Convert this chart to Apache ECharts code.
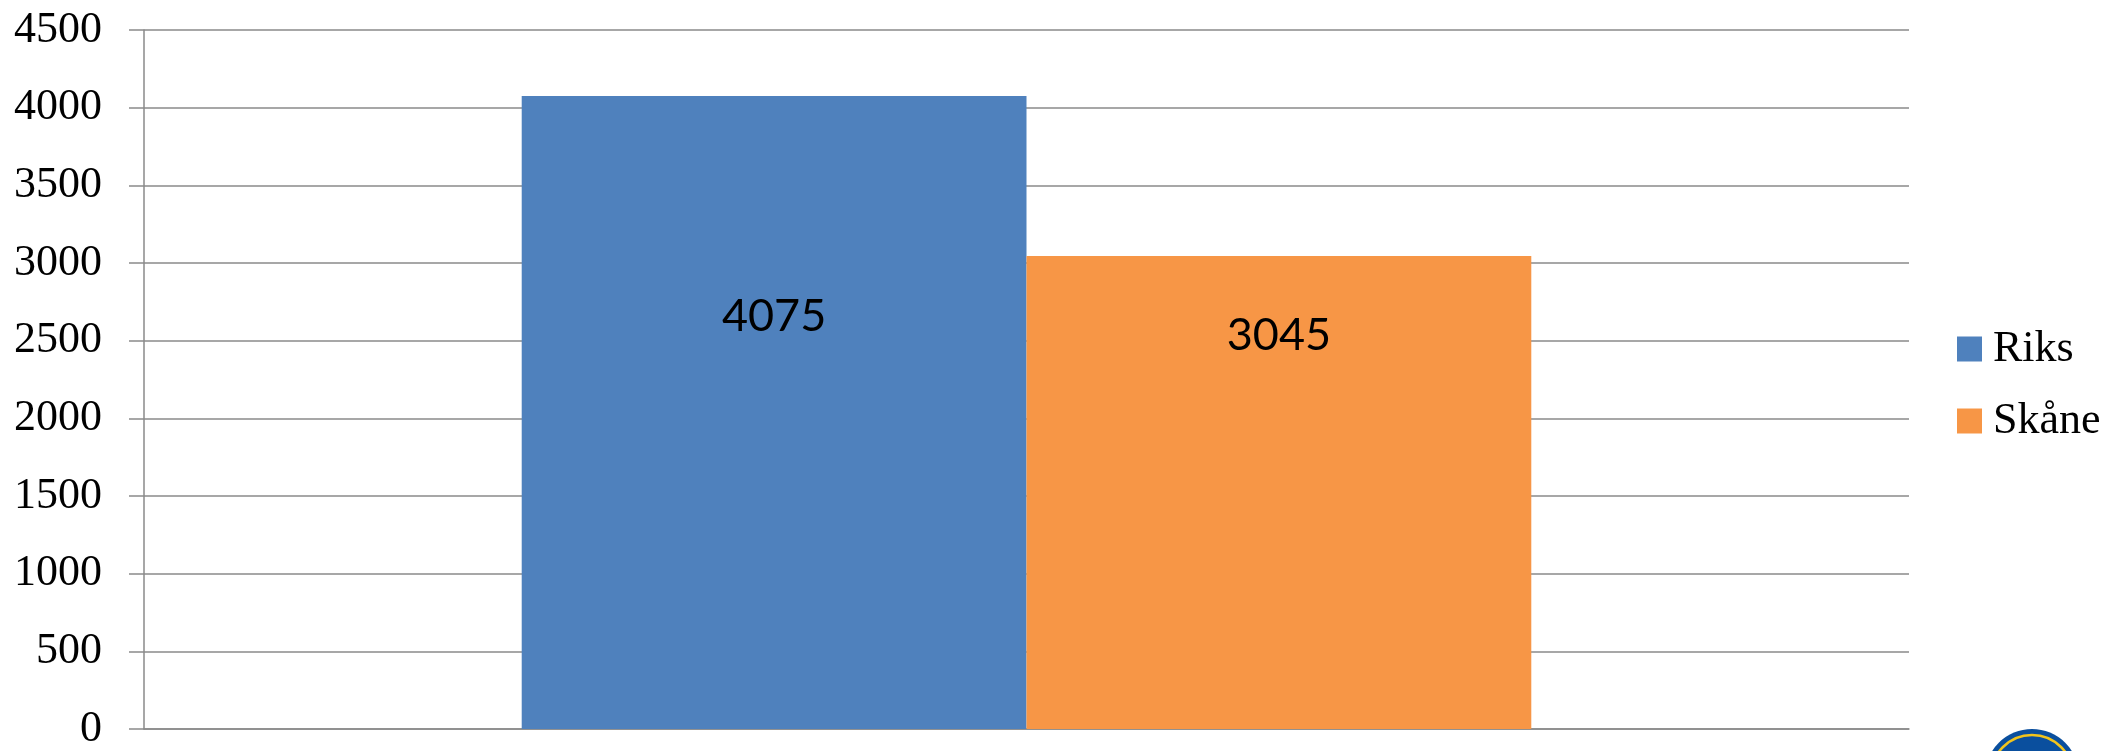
<!DOCTYPE html>
<html>
<head>
<meta charset="utf-8">
<script src="https://cdn.jsdelivr.net/npm/echarts@6/dist/echarts.min.js"></script>
<style>
html,body{margin:0;padding:0;background:#fff;}
#chart{width:2128px;height:751px;}
</style>
</head>
<body>
<div id="chart"></div>
<script>
const categories = [''];
const seriesNames = ['Riks', 'Skåne'];
const riksValues = [4075];
const skaneValues = [3045];
const yMin = 0, yMax = 4500, yInterval = 500;

const chart = echarts.init(document.getElementById('chart'), null, {renderer: 'canvas'});
const gridColor = '#8a8a8a';
const serif = '"Liberation Serif", "DejaVu Serif", serif';
const labelFont = 'Lato, "Open Sans", sans-serif';

chart.setOption({
  animation: false,
  backgroundColor: '#ffffff',
  grid: {left: 144, right: 219, top: 30, bottom: 17.5, containLabel: false},
  legend: {
    orient: 'vertical',
    left: 1957,
    top: 327,
    padding: 0,
    itemWidth: 25,
    itemHeight: 25,
    itemGap: 28,
    icon: 'rect',
    data: seriesNames,
    textStyle: {fontFamily: serif, fontSize: 44, color: '#000', lineHeight: 43, padding: [0, 0, 0, 6]}
  },
  xAxis: {
    type: 'category',
    data: categories,
    axisLine: {show: true, lineStyle: {color: gridColor, width: 1.5}},
    axisTick: {show: false},
    axisLabel: {show: false},
    splitLine: {show: false}
  },
  yAxis: {
    type: 'value',
    min: yMin, max: yMax, interval: yInterval,
    axisLine: {show: true, lineStyle: {color: gridColor, width: 1.5}},
    axisTick: {show: true, length: 15, lineStyle: {color: gridColor, width: 1.5}},
    axisLabel: {fontFamily: serif, fontSize: 44, color: '#000', margin: 42,
      formatter: function (v) { return String(v); }},
    splitLine: {show: true, lineStyle: {color: gridColor, width: 1.5}}
  },
  series: [
    {
      name: seriesNames[0], type: 'bar', data: riksValues,
      barWidth: '28.6%', barGap: '0%',
      itemStyle: {color: '#4F81BD'},
      label: {show: true, position: ['50%', 220], align: 'center', verticalAlign: 'middle',
        fontFamily: labelFont, fontSize: 45, color: '#000'}
    },
    {
      name: seriesNames[1], type: 'bar', data: skaneValues,
      barWidth: '28.6%', barGap: '0%',
      itemStyle: {color: '#F79646'},
      label: {show: true, position: ['50%', 79], align: 'center', verticalAlign: 'middle',
        fontFamily: labelFont, fontSize: 45, color: '#000'}
    }
  ],
  graphic: [
    {type: 'circle', shape: {cx: 2032, cy: 776, r: 47}, style: {fill: '#0a4f9e'}, silent: true},
    {type: 'circle', shape: {cx: 2032, cy: 776, r: 41}, style: {fill: 'none', stroke: '#f2c41c', lineWidth: 2.5}, silent: true}
  ]
});
</script>
</body>
</html>
